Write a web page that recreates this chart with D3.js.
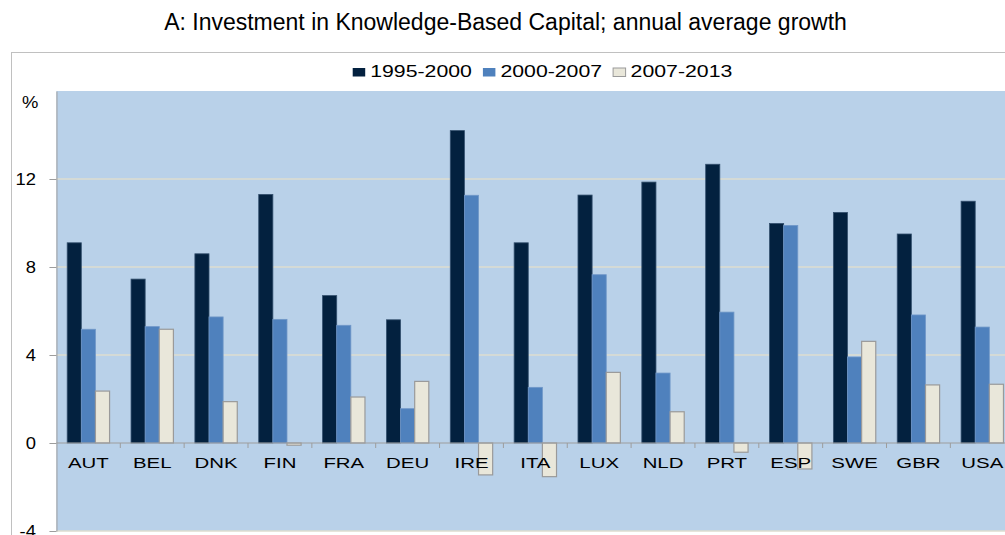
<!DOCTYPE html>
<html>
<head>
<meta charset="utf-8">
<script src="https://cdn.jsdelivr.net/npm/d3@7"></script>
<style>
body{margin:0;background:#fff}
text{font-family:Arial,"Liberation Sans",sans-serif;fill:#000}
</style>
</head>
<body>
<div id="chart"></div>
<script>
var countries = ["AUT","BEL","DNK","FIN","FRA","DEU","IRE","ITA","LUX","NLD","PRT","ESP","SWE","GBR","USA"]
var series = ["1995-2000","2000-2007","2007-2013"]
var g1995 = [9.1,7.45,8.6,11.3,6.7,5.6,14.2,9.1,11.27,11.86,12.67,9.98,10.48,9.5,10.99]
var g2000 = [5.17,5.29,5.73,5.62,5.35,1.56,11.26,2.53,7.65,3.18,5.95,9.89,3.91,5.82,5.27]
var g2007 = [2.36,5.17,1.88,-0.1,2.09,2.8,-1.45,-1.53,3.21,1.42,-0.42,-1.18,4.62,2.64,2.67]
var yTicks = [-4,0,4,8,12]
var gridTicks = [-4,4,8,12]

var colors = {"1995-2000":"#03213f","2000-2007":"#4f81bd","2007-2013":"#e9e7da"}
var strokes = {"1995-2000":"#34506e","2000-2007":"#7097c8","2007-2013":"#9a9a9a"}

var width = 1005, height = 535
var plot = {left:56.45, right:1014.2, top:91, bottom:531}

var svg = d3.select("#chart").append("svg").attr("width",width).attr("height",height)

// title
svg.append("text")
	.attr("x",505.5).attr("y",30)
	.attr("text-anchor","middle")
	.style("font-size","23px")
	.text("A: Investment in Knowledge-Based Capital; annual average growth")

// outer frame
svg.append("rect")
	.attr("x",11.5).attr("y",52.5)
	.attr("width",1200).attr("height",600)
	.attr("fill","#fff").attr("stroke","#c0c0c0")

var x0 = d3.scaleBand().domain(countries).range([plot.left,plot.right])
var x1 = d3.scaleBand().domain(series).range([0,x0.bandwidth()]).paddingInner(0).paddingOuter(0.76)
var y = d3.scaleLinear().domain([-4,16]).range([plot.bottom,plot.top])

svg.append("rect")
	.attr("x",plot.left).attr("y",plot.top)
	.attr("width",plot.right-plot.left).attr("height",plot.bottom-plot.top)
	.attr("fill","#b9d1e9")

// gridlines
svg.append("g").selectAll("line")
	.data(gridTicks)
	.enter().append("line")
	.attr("x1",plot.left).attr("x2",plot.right)
	.attr("y1",function(d){return y(d)}).attr("y2",function(d){return y(d)})
	.attr("stroke","#dedccf").attr("stroke-width",1.5)

// y axis
var yAxis = svg.append("g")
	.attr("transform","translate("+plot.left+",0)")
	.call(d3.axisLeft(y).tickValues(yTicks).tickSize(7).tickSizeOuter(0)
		.tickFormat(function(d){return String(d)}))
yAxis.select(".domain").attr("stroke","#9d9d9d")
yAxis.selectAll(".tick line").attr("stroke","#9d9d9d")
yAxis.selectAll(".tick text")
	.attr("x",-20.5/1.15)
	.attr("transform","scale(1.15,1)")
	.attr("font-family",null)
	.style("font-size","16px")
	.attr("fill","#000")

svg.append("text")
	.attr("transform","translate(22,108) scale(1.15,1)")
	.style("font-size","16px")
	.text("%")

// bars
var rows = countries.map(function(c,i){
	return {country:c, values:[
		{key:series[0],v:g1995[i]},
		{key:series[1],v:g2000[i]},
		{key:series[2],v:g2007[i]}]}
})

var groups = svg.append("g").selectAll("g")
	.data(rows)
	.enter().append("g")
	.attr("transform",function(d){return "translate("+x0(d.country)+",0)"})

groups.selectAll("rect")
	.data(function(d){return d.values})
	.enter().append("rect")
	.attr("x",function(d){return x1(d.key)})
	.attr("width",x1.bandwidth())
	.attr("y",function(d){return y(Math.max(0,d.v))})
	.attr("height",function(d){return Math.abs(y(d.v)-y(0))})
	.attr("fill",function(d){return colors[d.key]})
	.attr("stroke",function(d){return strokes[d.key]})
	.attr("stroke-width",function(d){return d.key=="2007-2013" ? 1.2 : 0.8})

// zero axis with boundary ticks
var y0 = y(0)
svg.append("line")
	.attr("x1",plot.left).attr("x2",plot.right)
	.attr("y1",y0).attr("y2",y0)
	.attr("stroke","#9d9d9d")
svg.append("g").selectAll("line")
	.data(countries)
	.enter().append("line")
	.attr("x1",function(d){return x0(d)+x0.bandwidth()})
	.attr("x2",function(d){return x0(d)+x0.bandwidth()})
	.attr("y1",y0).attr("y2",y0+5)
	.attr("stroke","#9d9d9d")

svg.append("g").selectAll("text")
	.data(countries)
	.enter().append("text")
	.attr("transform",function(d){return "translate("+(x0(d)+x0.bandwidth()/2)+",468) scale(1.36,1)"})
	.attr("text-anchor","middle")
	.style("font-size","15px")
	.text(function(d){return d})

// legend
var legend = svg.append("g")
var lx = 0
var sx = 1.33
series.forEach(function(s){
	legend.append("rect")
		.attr("x",lx).attr("y",68)
		.attr("width",12.5).attr("height",8.5)
		.attr("fill",colors[s])
		.attr("stroke",s=="2007-2013" ? "#9a9a9a" : "none")
	var t = legend.append("text")
		.attr("transform","translate("+(lx+17.5)+",76.7) scale("+sx+",1)")
		.style("font-size","16px")
		.text(s)
	lx += 17.5 + t.node().getComputedTextLength()*sx + 11
})
var lw = lx - 11
legend.attr("transform","translate("+(542.5-lw/2)+",0)")
</script>
</body>
</html>
